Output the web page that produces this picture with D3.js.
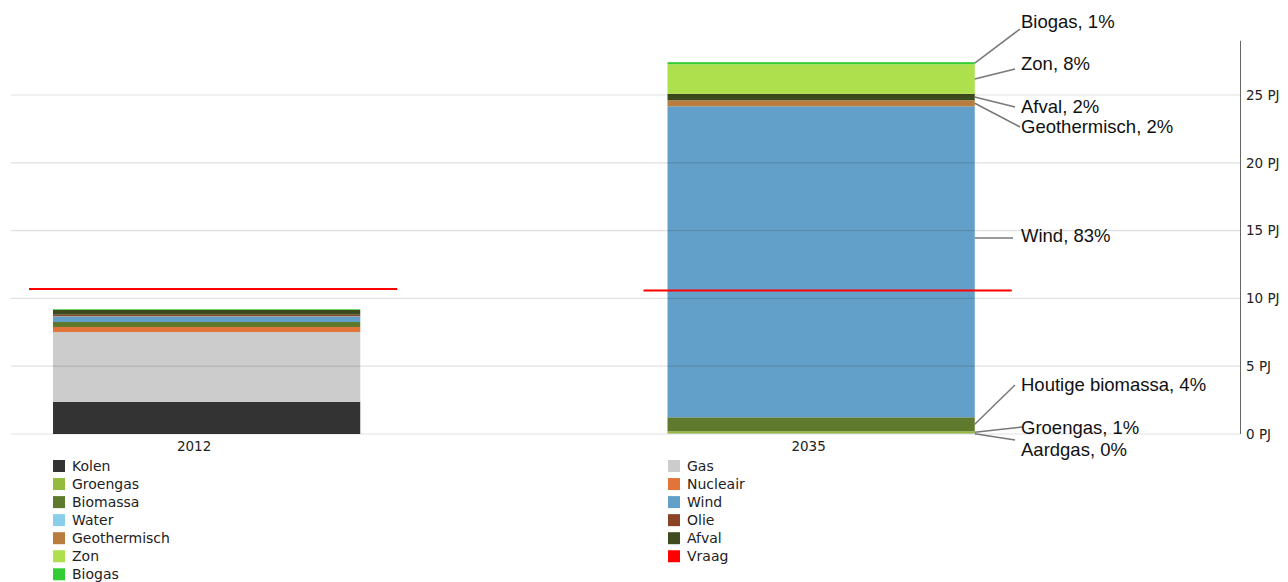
<!DOCTYPE html>
<html>
<head>
<meta charset="utf-8">
<script src="https://cdnjs.cloudflare.com/ajax/libs/d3/7.8.5/d3.min.js"></script>
<style>
  body { margin: 0; background: #fff; }
  svg { display: block; }
</style>
</head>
<body>
<div id="chart"></div>
<script>
var width = 1288;
var height = 582;

// data (PJ)
var years = ["2012", "2035"];
var series = ["Kolen", "Gas", "Groengas", "Nucleair", "Biomassa", "Wind", "Water", "Olie", "Geothermisch", "Afval", "Zon", "Biogas"];
var colors = ["#333333", "#cccccc", "#95bb3c", "#e2743a", "#5f7a2d", "#62a0c9", "#87ceeb", "#8b4524", "#b97d3d", "#3e4b1e", "#aee04e", "#33cc33"];
var values2012 = [2.38, 5.14, 0, 0.37, 0.37, 0.40, 0.02, 0.12, 0, 0.35, 0.01, 0.05];
var values2035 = [0, 0.05, 0.15, 0, 1.03, 22.94, 0, 0, 0.44, 0.47, 2.19, 0.15];
var vraag = [10.69, 10.58];
var yTicks = [0, 5, 10, 15, 20, 25];

// annotations for 2035 (series, label text)
var annSeries = ["Biogas", "Zon", "Afval", "Geothermisch", "Wind", "Biomassa", "Groengas", "Gas"];
var annText = ["Biogas, 1%", "Zon, 8%", "Afval, 2%", "Geothermisch, 2%", "Wind, 83%", "Houtige biomassa, 4%", "Groengas, 1%", "Aardgas, 0%"];

// label layout (pixels): text baseline and end point of leader line
var annBaseline = [28, 70, 113, 133, 242, 391, 434, 456];
var annLineEnd = [[1020, 29], [1015, 69], [1015, 107], [1020, 127], [1013, 238], [1015, 385], [1022, 427], [1015, 440]];

var svg = d3.select("#chart").append("svg")
    .attr("width", width)
    .attr("height", height);

var yScale = d3.scaleLinear().domain([0, 29]).range([434, 434 - 29 * 13.56]);
var xScale = d3.scaleBand().domain(years).range([53, 974.75]).paddingInner(0.5).paddingOuter(0);

var table = [values2012, values2035];

// stacked bars
var bars = svg.append("g");
years.forEach(function(yr, yi) {
    var base = 0;
    series.forEach(function(s, si) {
        var v = table[yi][si];
        if (v <= 0) return;
        bars.append("rect")
            .attr("x", xScale(yr))
            .attr("width", xScale.bandwidth())
            .attr("y", yScale(base + v))
            .attr("height", yScale(base) - yScale(base + v))
            .attr("fill", colors[si]);
        base += v;
    });
});

// grid lines over the bars
var grid = svg.append("g");
grid.selectAll("line")
    .data(yTicks).enter()
    .append("line")
    .attr("x1", 11)
    .attr("x2", 1240)
    .attr("y1", function(d) { return yScale(d); })
    .attr("y2", function(d) { return yScale(d); })
    .attr("stroke", "rgba(0,0,0,0.12)")
    .attr("stroke-width", 1.2);

// right axis
var yAxis = d3.axisRight(yScale)
    .tickValues(yTicks)
    .tickSize(0)
    .tickPadding(6)
    .tickFormat(function(d) { return d + " PJ"; });

var axisG = svg.append("g")
    .attr("transform", "translate(1240,0)")
    .call(yAxis);
axisG.select(".domain").remove();
axisG.selectAll("text")
    .style("font-family", "DejaVu Sans, sans-serif")
    .style("font-size", "13.5px")
    .attr("fill", "#222");
svg.append("line")
    .attr("x1", 1240.5).attr("x2", 1240.5)
    .attr("y1", yScale.range()[1]).attr("y2", yScale(0))
    .attr("stroke", "#666")
    .attr("stroke-width", 1);

// x labels
svg.selectAll(".xlabel")
    .data(years).enter()
    .append("text")
    .attr("class", "xlabel")
    .attr("x", function(d) { return xScale(d) + xScale.bandwidth() / 2 - 12.5; })
    .attr("y", 451)
    .attr("text-anchor", "middle")
    .style("font-family", "DejaVu Sans, sans-serif")
    .style("font-size", "13.5px")
    .attr("fill", "#222")
    .text(function(d) { return d; });

// demand lines
svg.selectAll(".vraag")
    .data(years).enter()
    .append("line")
    .attr("x1", function(d) { return xScale(d) - 24; })
    .attr("x2", function(d) { return xScale(d) + xScale.bandwidth() + 37; })
    .attr("y1", function(d, i) { return yScale(vraag[i]); })
    .attr("y2", function(d, i) { return yScale(vraag[i]); })
    .attr("stroke", "#ff0000")
    .attr("stroke-width", 2);

// annotations 2035
var barRight = xScale("2035") + xScale.bandwidth();
var annG = svg.append("g");
annSeries.forEach(function(s, ai) {
    var si = series.indexOf(s);
    var base = 0;
    for (var k = 0; k < si; k++) base += values2035[k];
    var top = yScale(base + values2035[si]);
    var bottom = yScale(base);
    var end = annLineEnd[ai];
    var startY = (top + bottom) / 2;
    if (end[1] > top + 20 && end[1] < bottom - 20) startY = end[1];
    annG.append("line")
        .attr("x1", barRight)
        .attr("y1", startY)
        .attr("x2", end[0])
        .attr("y2", end[1])
        .attr("stroke", "#777")
        .attr("stroke-width", 1.5);
    annG.append("text")
        .attr("x", 1021)
        .attr("y", annBaseline[ai])
        .style("font-family", "Liberation Sans, Arial, sans-serif")
        .style("font-size", "18.5px")
        .attr("fill", "#111")
        .text(annText[ai]);
});

// legend
var legendItems = series.map(function(s, i) { return { name: s, color: colors[i] }; });
legendItems.splice(11, 0, { name: "Vraag", color: "#ff0000" });

var legend = svg.append("g");
var leg = legend.selectAll("g")
    .data(legendItems).enter()
    .append("g")
    .attr("transform", function(d, i) {
        var col = i % 2, row = Math.floor(i / 2);
        return "translate(" + (col === 0 ? 53 : 668) + "," + (460 + row * 18.05) + ")";
    });
leg.append("rect")
    .attr("width", 12)
    .attr("height", 12)
    .attr("fill", function(d) { return d.color; });
leg.append("text")
    .attr("x", 19)
    .attr("y", 10.8)
    .style("font-family", "DejaVu Sans, sans-serif")
    .style("font-size", "14px")
    .attr("fill", "#222")
    .text(function(d) { return d.name; });
</script>
</body>
</html>
